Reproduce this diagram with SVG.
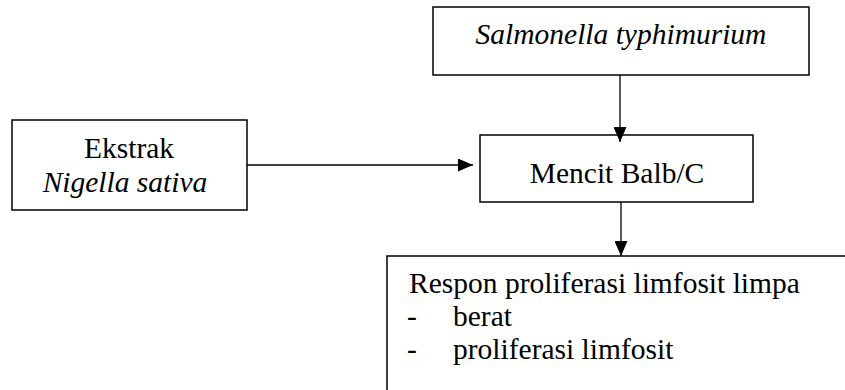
<svg xmlns="http://www.w3.org/2000/svg" width="845" height="390" viewBox="0 0 845 390">
<style>
.box{fill:#fff;stroke:#000;stroke-width:1.5}
.t{font-family:'Liberation Serif',serif;font-size:29.5px;fill:#000}
.i{font-style:italic}
.c{text-anchor:middle}
.ln{stroke:#000;stroke-width:1.3;fill:none;marker-end:url(#ah)}
</style>
<defs>
<marker id="ah" markerUnits="userSpaceOnUse" markerWidth="15" markerHeight="13" refX="15" refY="6.5" orient="auto">
<path d="M0,0 L15,6.5 L0,13 z" fill="#000"/>
</marker>
</defs>
<rect width="845" height="390" fill="#fff"/>
<g id="salmonella">
<rect class="box" x="433" y="7" width="376" height="68"/>
<text class="t i c" x="621" y="44">Salmonella typhimurium</text>
</g>
<g id="ekstrak">
<rect class="box" x="12" y="120" width="235" height="90"/>
<text class="t c" x="129" y="158">Ekstrak</text>
<text class="t i c" x="125" y="192">Nigella sativa</text>
</g>
<g id="mencit">
<rect class="box" x="480" y="135" width="273" height="67"/>
<text class="t c" x="617" y="183">Mencit Balb/C</text>
</g>
<g id="respon">
<rect class="box" x="387" y="256" width="470" height="140"/>
<text class="t" x="409" y="293">Respon proliferasi limfosit limpa</text>
<text class="t" x="407" y="326">-</text>
<text class="t" x="453" y="326">berat</text>
<text class="t" x="407" y="359">-</text>
<text class="t" x="453" y="359">proliferasi limfosit</text>
</g>
<g id="connectors">
<line class="ln" x1="620" y1="75" x2="620" y2="142"/>
<line class="ln" x1="247" y1="165" x2="473" y2="165"/>
<line class="ln" x1="621" y1="202" x2="621" y2="256"/>
</g>
</svg>
